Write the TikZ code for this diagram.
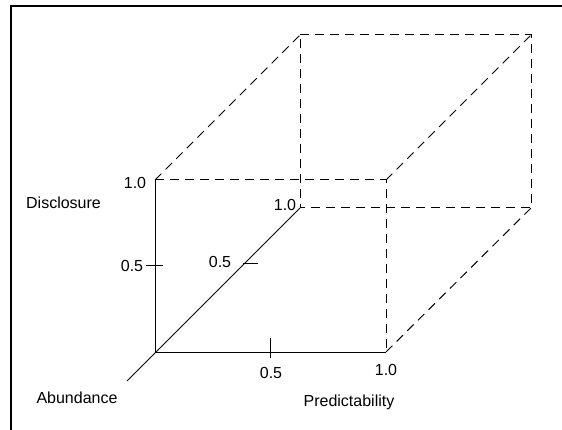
\documentclass[tikz,border=0pt]{standalone}
\usepackage{fontspec}
\setmainfont{Liberation Sans}
\begin{document}
\begin{tikzpicture}[x=1pt,y=-1pt,line width=1pt,
  hidden/.style={dash pattern=on 9pt off 6pt},
  lbl/.style={inner sep=0pt,font=\fontsize{16}{19}\selectfont}]
\useasboundingbox (0,0) rectangle (562,430);
% frame
\draw[line width=1.2pt] (11,430) -- (11,6) -- (562,6);
% cube corners
\coordinate (O) at (155,352);
\coordinate (FTL) at (155,180);
\coordinate (FTR) at (386,180);
\coordinate (FBR) at (386,352);
\coordinate (BBL) at (300,208);
\coordinate (BTL) at (300,35);
\coordinate (BTR) at (531,35);
\coordinate (BBR) at (531,208);
\coordinate (AX) at (127,381);
% axes
\draw (O) -- (FTL);
\draw (O) -- (FBR);
\draw (AX) -- (BBL);
% hidden edges
\draw[hidden] (FTL) -- (FTR) -- (FBR);
\draw[hidden] (BTL) -- (BTR) -- (BBR) -- (BBL) -- (BTL);
\draw[hidden] (FTL) -- (BTL);
\draw[hidden] (FTR) -- (BTR);
\draw[hidden] (FBR) -- (BBR);
% ticks
\coordinate (t1a) at (146,266); \coordinate (t1b) at (163,266);
\draw (t1a) -- (t1b);
\coordinate (t2a) at (270,338); \coordinate (t2b) at (270,358);
\draw (t2a) -- (t2b);
\coordinate (t3a) at (243,264); \coordinate (t3b) at (258,264);
\draw (t3a) -- (t3b);
% labels
\node[lbl] (l1) at (135,183) {1.0};
\node[lbl] (l2) at (132,266) {0.5};
\node[lbl] (l3) at (63.5,203) {Disclosure};
\node[lbl] (l4) at (220,262) {0.5};
\node[lbl] (l5) at (285,205) {1.0};
\node[lbl] (l6) at (271,373) {0.5};
\node[lbl] (l7) at (386,370) {1.0};
\node[lbl] (l8) at (349,402) {Predictability};
\node[lbl] (l9) at (77,398) {Abundance};
\end{tikzpicture}
\end{document}
